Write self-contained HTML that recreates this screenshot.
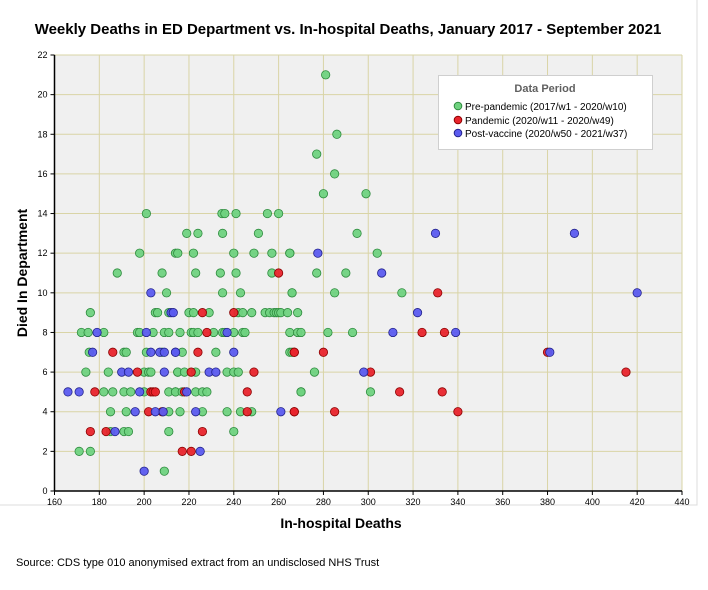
<!DOCTYPE html>
<html><head><meta charset="utf-8"><style>
body{margin:0;background:#fff;font-family:"Liberation Sans",Arial,sans-serif}
svg text{font-family:"Liberation Sans",Arial,sans-serif}
</style></head><body>
<svg id="chart" width="708" height="585" viewBox="0 0 708 585">
<rect x="0" y="0" width="708" height="585" fill="#fff"/>
<path d="M697 0 V505 H0" fill="none" stroke="#dcdcdc" stroke-width="1"/>
<text x="348" y="34" text-anchor="middle" font-size="15" font-weight="bold" fill="#000">Weekly Deaths in ED Department vs. In-hospital Deaths, January 2017 - September 2021</text>
<rect x="54.5" y="55" width="627.5" height="436" fill="#f0f0f0"/>
<g id="grid"></g>
<g id="points"></g>
<g id="axes"></g>
<text x="341" y="528" text-anchor="middle" font-size="14" font-weight="bold">In-hospital Deaths</text>
<text transform="translate(27,273) rotate(-90)" text-anchor="middle" font-size="14" font-weight="bold">Died In Department</text>
<text x="16" y="566" font-size="11" fill="#000">Source: CDS type 010 anonymised extract from an undisclosed NHS Trust</text>
<g>
<rect x="438.5" y="75.5" width="214" height="74" fill="#fff" stroke="#cfcfcf"/>
<text x="545" y="92" text-anchor="middle" font-size="11" font-weight="bold" fill="#606060">Data Period</text>
<g><circle cx="458" cy="106" r="3.8" fill="#6fd27f" stroke="#2e8b3e"/><text x="465" y="110" font-size="10">Pre-pandemic (2017/w1 - 2020/w10)</text></g>
<g><circle cx="458" cy="120" r="3.8" fill="#e8242c" stroke="#8b0000"/><text x="465" y="124" font-size="10">Pandemic (2020/w11 - 2020/w49)</text></g>
<g><circle cx="458" cy="133" r="3.8" fill="#5b5bef" stroke="#22228b"/><text x="465" y="137" font-size="10">Post-vaccine (2020/w50 - 2021/w37)</text></g>
</g>
</svg>
<script>
const xTicks=[160,180,200,220,240,260,280,300,320,340,360,380,400,420,440];
const yTicks=[0,2,4,6,8,10,12,14,16,18,20,22];
const greenX=[201,198,214,188,208,210,176,205,206,211,172,175,182,197,198,204,209,211,175.5,191,192,201,208,174,184,200,202,203,215,182,186,191,194,200,211,214,185,192,211,185,191,193,211,171,176,209,
234.7,236,241,255,260,219,224,235,251,215,222,240,249,257,265,223,234,241,257,235,243,266,220,222,229,242,244,248,254,256,258,259,260,261,264,268.5,216,221,222,224,231,235,236,240,244,245,265,268.5,217,232,265,215,218,223,237,240,242,214,217,223,226,228,270,216,226,237,243,248,240,
281,286,277,285,280,299,295,265,304,277,290,266,285,315,270,282,293,266,276,270,301];
const greenY=[14,12,12,11,11,10,9,9,9,9,8,8,8,8,8,8,8,8,7,7,7,7,7,6,6,6,6,6,6,5,5,5,5,5,5,5,4,4,4,3,3,3,3,2,2,1,
14,14,14,14,14,13,13,13,13,12,12,12,12,12,12,11,11,11,11,10,10,10,9,9,9,9,9,9,9,9,9,9,9,9,9,9,8,8,8,8,8,8,8,8,8,8,8,8,7,7,7,6,6,6,6,6,6,5,5,5,5,5,5,4,4,4,4,4,3,
21,18,17,16,15,15,13,12,12,11,11,10,10,10,8,8,8,7,6,5,5];
const redX=[186,197,178,203,204,205,202,208,176,183,260,226,240,228,224,267,221,249,218,246,246,267,226,217,221,331,324,334,280,267,380,301,415,314,333,267,285,340];
const redY=[7,6,5,5,5,5,4,4,3,3,11,9,9,8,7,7,6,6,5,5,4,4,3,2,2,10,8,8,7,7,7,6,6,5,5,4,4,4];
const blueX=[203,212,179,201,177,203,207,209,214,190,193,209,166,171,198,196,205,208.5,187,200,213,237,214,240,229,232,219,223,261,225,277.5,330,306,420,392,322,311,339,381,298];
const blueY=[10,9,8,8,7,7,7,7,7,6,6,6,5,5,5,4,4,4,3,1,9,8,7,7,6,6,5,4,4,2,12,13,11,10,13,9,8,8,7,6];

const X0=54.5,X1=682,Y0=491,Y1=55;
const sx=v=>X0+(v-160)/(440-160)*(X1-X0);
const sy=v=>Y0-(v-0)/(22-0)*(Y0-Y1);
const NS="http://www.w3.org/2000/svg";
function mk(tag,attrs,parent){const e=document.createElementNS(NS,tag);for(const k in attrs)e.setAttribute(k,attrs[k]);parent.appendChild(e);return e;}
const grid=document.getElementById('grid'),axes=document.getElementById('axes'),pts=document.getElementById('points');
xTicks.forEach(t=>{
  const l=mk('line',{x1:sx(t),x2:sx(t),y1:Y1,y2:Y0,stroke:'#d9d4a6','stroke-width':1},grid);
  
  
  mk('line',{x1:sx(t),x2:sx(t),y1:Y0,y2:Y0+4,stroke:'#000'},axes);
  const tx=mk('text',{x:sx(t),y:Y0+14,'text-anchor':'middle','font-size':9},axes);
  tx.textContent=t;
  
  
});
yTicks.forEach(t=>{
  const l=mk('line',{x1:X0,x2:X1,y1:sy(t),y2:sy(t),stroke:'#d9d4a6','stroke-width':1},grid);
  
  
  mk('line',{x1:X0-4,x2:X0,y1:sy(t),y2:sy(t),stroke:'#000'},axes);
  const tx=mk('text',{x:X0-7,y:sy(t)+3,'text-anchor':'end','font-size':9},axes);
  tx.textContent=t;
  
  
});
const ya=mk('line',{x1:X0,x2:X0,y1:Y1,y2:Y0,stroke:'#000','stroke-width':1.5},axes);


const xa=mk('line',{x1:X0,x2:X1,y1:Y0,y2:Y0,stroke:'#000','stroke-width':1.5},axes);


function series(xs,ys,fill,stroke,name){
  xs.forEach((v,i)=>{
    const c=mk('circle',{cx:sx(v),cy:sy(ys[i]),r:4.2,fill:fill,stroke:stroke,'stroke-width':0.8,'fill-opacity':0.95},pts);
    
    
  });
}
series(greenX,greenY,'#6fd27f','#2e8b3e','point-pre-pandemic');
series(redX,redY,'#e8242c','#8b0000','point-pandemic');
series(blueX,blueY,'#5b5bef','#22228b','point-post-vaccine');
</script>
</body></html>
